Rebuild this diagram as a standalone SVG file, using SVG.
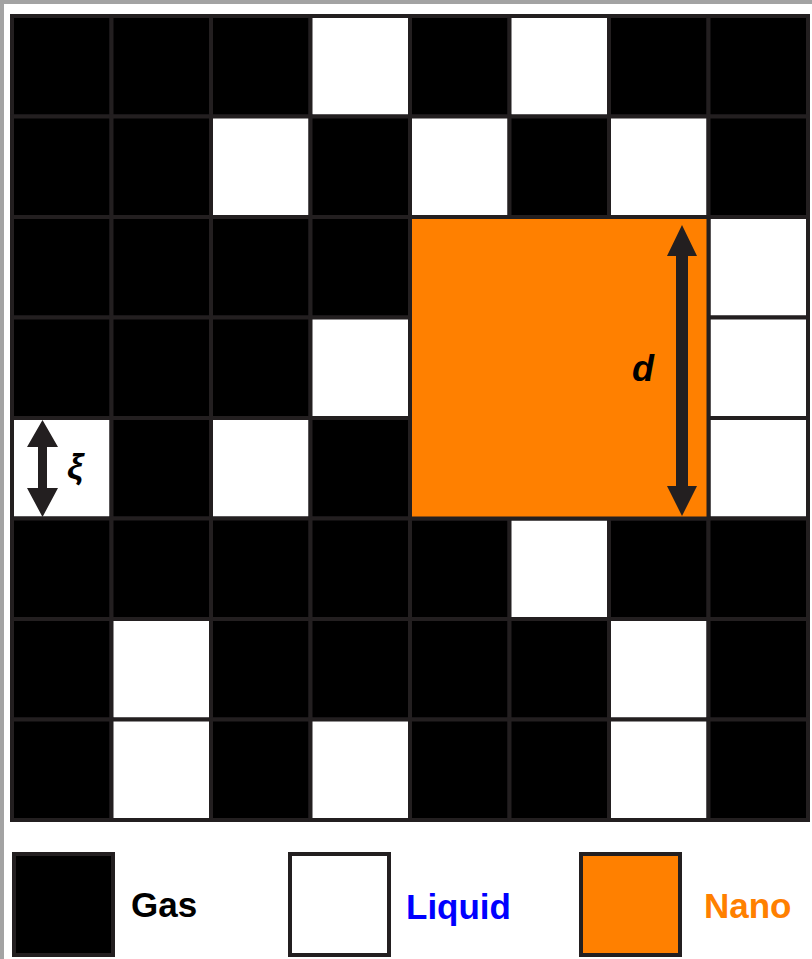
<svg xmlns="http://www.w3.org/2000/svg" width="812" height="959" viewBox="0 0 812 959">
<style>
.g{fill:#000;stroke:#231f20;stroke-width:4}
.l{fill:#fff;stroke:#231f20;stroke-width:4}
.n{fill:#ff8000;stroke:#231f20;stroke-width:4}
.arr{fill:#231f20}
.lab{font-family:"Liberation Sans",Arial,sans-serif;font-weight:bold;font-size:35px}
.sym{font-family:"Liberation Sans",Arial,sans-serif;font-style:italic;font-weight:bold;font-size:36px;fill:#000}
</style>
<rect x="0" y="0" width="812" height="959" fill="#fff"/>
<rect x="0" y="0" width="812" height="4" fill="#a3a3a3"/>
<rect x="0" y="0" width="4" height="959" fill="#a3a3a3"/>
<g id="grid">
<!-- row 0 -->
<rect class="g" x="12" y="16" width="99.5" height="100.5"/>
<rect class="g" x="111.5" y="16" width="99.5" height="100.5"/>
<rect class="g" x="211" y="16" width="99.5" height="100.5"/>
<rect class="l" x="310.5" y="16" width="99.5" height="100.5"/>
<rect class="g" x="410" y="16" width="99.5" height="100.5"/>
<rect class="l" x="509.5" y="16" width="99.5" height="100.5"/>
<rect class="g" x="609" y="16" width="99.5" height="100.5"/>
<rect class="g" x="708.5" y="16" width="99.5" height="100.5"/>
<!-- row 1 -->
<rect class="g" x="12" y="116.5" width="99.5" height="100.5"/>
<rect class="g" x="111.5" y="116.5" width="99.5" height="100.5"/>
<rect class="l" x="211" y="116.5" width="99.5" height="100.5"/>
<rect class="g" x="310.5" y="116.5" width="99.5" height="100.5"/>
<rect class="l" x="410" y="116.5" width="99.5" height="100.5"/>
<rect class="g" x="509.5" y="116.5" width="99.5" height="100.5"/>
<rect class="l" x="609" y="116.5" width="99.5" height="100.5"/>
<rect class="g" x="708.5" y="116.5" width="99.5" height="100.5"/>
<!-- row 2 -->
<rect class="g" x="12" y="217" width="99.5" height="100.5"/>
<rect class="g" x="111.5" y="217" width="99.5" height="100.5"/>
<rect class="g" x="211" y="217" width="99.5" height="100.5"/>
<rect class="g" x="310.5" y="217" width="99.5" height="100.5"/>
<rect class="l" x="708.5" y="217" width="99.5" height="100.5"/>
<!-- row 3 -->
<rect class="g" x="12" y="317.5" width="99.5" height="100.5"/>
<rect class="g" x="111.5" y="317.5" width="99.5" height="100.5"/>
<rect class="g" x="211" y="317.5" width="99.5" height="100.5"/>
<rect class="l" x="310.5" y="317.5" width="99.5" height="100.5"/>
<rect class="l" x="708.5" y="317.5" width="99.5" height="100.5"/>
<!-- row 4 -->
<rect class="l" x="12" y="418" width="99.5" height="100.5"/>
<rect class="g" x="111.5" y="418" width="99.5" height="100.5"/>
<rect class="l" x="211" y="418" width="99.5" height="100.5"/>
<rect class="g" x="310.5" y="418" width="99.5" height="100.5"/>
<rect class="l" x="708.5" y="418" width="99.5" height="100.5"/>
<!-- row 5 -->
<rect class="g" x="12" y="518.5" width="99.5" height="100.5"/>
<rect class="g" x="111.5" y="518.5" width="99.5" height="100.5"/>
<rect class="g" x="211" y="518.5" width="99.5" height="100.5"/>
<rect class="g" x="310.5" y="518.5" width="99.5" height="100.5"/>
<rect class="g" x="410" y="518.5" width="99.5" height="100.5"/>
<rect class="l" x="509.5" y="518.5" width="99.5" height="100.5"/>
<rect class="g" x="609" y="518.5" width="99.5" height="100.5"/>
<rect class="g" x="708.5" y="518.5" width="99.5" height="100.5"/>
<!-- row 6 -->
<rect class="g" x="12" y="619" width="99.5" height="100.5"/>
<rect class="l" x="111.5" y="619" width="99.5" height="100.5"/>
<rect class="g" x="211" y="619" width="99.5" height="100.5"/>
<rect class="g" x="310.5" y="619" width="99.5" height="100.5"/>
<rect class="g" x="410" y="619" width="99.5" height="100.5"/>
<rect class="g" x="509.5" y="619" width="99.5" height="100.5"/>
<rect class="l" x="609" y="619" width="99.5" height="100.5"/>
<rect class="g" x="708.5" y="619" width="99.5" height="100.5"/>
<!-- row 7 -->
<rect class="g" x="12" y="719.5" width="99.5" height="100.5"/>
<rect class="l" x="111.5" y="719.5" width="99.5" height="100.5"/>
<rect class="g" x="211" y="719.5" width="99.5" height="100.5"/>
<rect class="l" x="310.5" y="719.5" width="99.5" height="100.5"/>
<rect class="g" x="410" y="719.5" width="99.5" height="100.5"/>
<rect class="g" x="509.5" y="719.5" width="99.5" height="100.5"/>
<rect class="l" x="609" y="719.5" width="99.5" height="100.5"/>
<rect class="g" x="708.5" y="719.5" width="99.5" height="100.5"/>
</g>
<g id="nano">
<rect class="n" x="410" y="217" width="298.5" height="301.5"/>
</g>
<g id="connectors">
<path class="arr" d="M682,225 L697,256 L688,256 L688,486 L697,486 L682,516 L667,486 L676,486 L676,256 L667,256 Z"/>
<path class="arr" d="M42.5,420 L58,447 L47,447 L47,488 L58,488 L42.5,517 L27,488 L38,488 L38,447 L27,447 Z"/>
</g>
<text class="sym" x="632" y="381">d</text>
<text class="sym" x="67" y="479">ξ</text>
<g id="legend-gas">
<rect class="g" x="14" y="854" width="99" height="101"/>
<text class="lab" x="131" y="917" fill="#000">Gas</text>
</g>
<g id="legend-liquid">
<rect class="l" x="290" y="854" width="99" height="101"/>
<text class="lab" x="406" y="919" fill="#0000ff">Liquid</text>
</g>
<g id="legend-nano">
<rect class="n" x="581" y="854" width="99" height="101"/>
<text class="lab" x="704" y="918" fill="#ff8000">Nano</text>
</g>
</svg>
